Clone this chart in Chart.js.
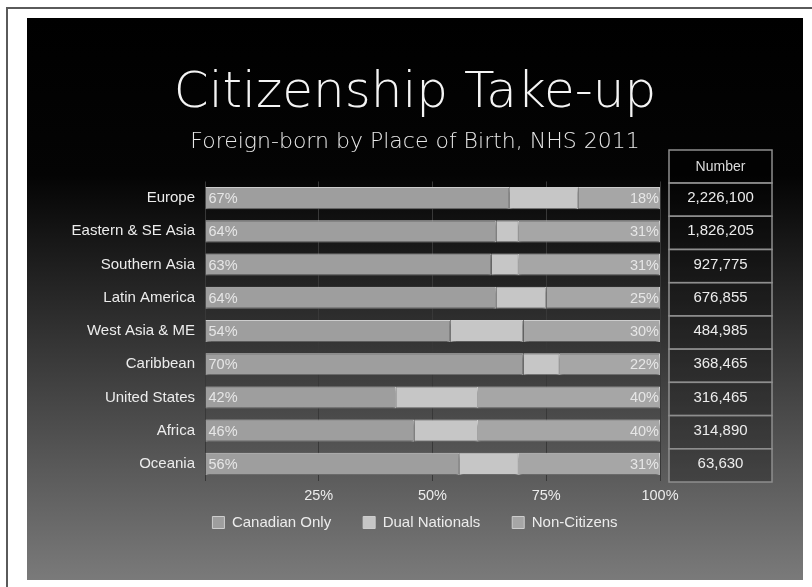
<!DOCTYPE html>
<html>
<head>
<meta charset="utf-8">
<script src="https://cdn.jsdelivr.net/npm/chart.js@4.4.1/dist/chart.umd.min.js"></script>
<style>
    html, body { margin: 0; padding: 0; background: #fff; }
    body { width: 812px; height: 587px; position: relative; overflow: hidden; }
    #frame { position: absolute; left: 6px; top: 7px; right: 0; bottom: 0; border-left: 2px solid #5a5a5a; border-top: 2px solid #5a5a5a; }
    #panel { position: absolute; left: 27px; top: 18px; width: 776px; height: 562px;
        background: linear-gradient(to bottom, #000 0%, #040404 28%, #7a7a7a 100%); }
</style>
</head>
<body>
<div id="frame"></div>
<div id="panel"><canvas id="chart"></canvas></div>
<script>
/* globals Chart */

const regions = ["Europe", "Eastern & SE Asia", "Southern Asia", "Latin America", "West Asia & ME",
    "Caribbean", "United States", "Africa", "Oceania"];
const canadianOnly = [67, 64, 63, 64, 54, 70, 42, 46, 56];
const dualNationals = [15, 5, 6, 11, 16, 8, 18, 14, 13];
const nonCitizens = [18, 31, 31, 25, 30, 22, 40, 40, 31];
const numbers = ["2,226,100", "1,826,205", "927,775", "676,855", "484,985",
    "368,465", "316,465", "314,890", "63,630"];
const xTicks = [25, 50, 75, 100];

const FONT = "'Liberation Sans', Arial, Helvetica, sans-serif";
const TITLE_FONT = "'DejaVu Sans', Roboto, sans-serif";
const TEXT = "#ececec";

// centre the numbers inside the table column
const measure = document.createElement("canvas").getContext("2d");
measure.font = "15px " + FONT;
const widest = Math.max(...numbers.map((n) => measure.measureText(n).width));

const numberTable = {
    id: "numberTable",
    beforeDraw(chart) {
        const { ctx, chartArea, scales: { y } } = chart;
        const left = chartArea.right + 9;
        const width = 103;
        const half = (y.getPixelForValue(1) - y.getPixelForValue(0)) / 2;
        ctx.save();
        ctx.strokeStyle = "#8e8e8e";
        ctx.lineWidth = 1.5;
        ctx.fillStyle = "rgba(0,0,0,0.28)";
        const headTop = chartArea.top - 31.5;
        ctx.fillRect(left, headTop, width, 33);
        ctx.strokeRect(left, headTop, width, 33);
        numbers.forEach((n, i) => {
            const top = y.getPixelForValue(i) - half + 1.5;
            ctx.fillRect(left, top, width, half * 2);
            ctx.strokeRect(left, top, width, half * 2);
        });
        ctx.fillStyle = "#dcdcdc";
        ctx.font = "14px " + FONT;
        ctx.textAlign = "center";
        ctx.textBaseline = "middle";
        ctx.fillText("Number", left + width / 2, headTop + 17);
        ctx.restore();
    }
};

// the x axis box is kept thin so the legend sits close; widen it again for label clipping
const xLabelRoom = {
    id: "xLabelRoom",
    afterLayout(chart) {
        chart.scales.x.bottom = chart.scales.x.top + 26;
    }
};

const barShadow = {
    id: "barShadow",
    beforeDatasetsDraw(chart) {
        const { ctx } = chart;
        ctx.save();
        ctx.shadowColor = "rgba(0,0,0,0.55)";
        ctx.shadowOffsetY = 3;
        ctx.shadowBlur = 3;
    },
    afterDatasetsDraw(chart) {
        chart.ctx.restore();
    }
};

const barLabels = {
    id: "barLabels",
    afterDatasetsDraw(chart) {
        const { ctx } = chart;
        const first = chart.getDatasetMeta(0).data;
        const last = chart.getDatasetMeta(2).data;
        ctx.save();
        ctx.font = "14.5px " + FONT;
        ctx.fillStyle = "#e6e6e6";
        ctx.textBaseline = "middle";
        first.forEach((bar, i) => {
            ctx.textAlign = "left";
            ctx.fillText(canadianOnly[i] + "%", bar.base + 3, bar.y + 1);
            ctx.textAlign = "right";
            ctx.fillText(nonCitizens[i] + "%", last[i].x - 1, bar.y + 1);
        });
        ctx.restore();
    }
};

const data = {
    labels: regions,
    datasets: [
        { label: "Canadian Only", data: canadianOnly, backgroundColor: "#9e9e9e" },
        { label: "Dual Nationals", data: dualNationals, backgroundColor: "#c6c6c6" },
        { label: "Non-Citizens", data: nonCitizens, backgroundColor: "#a6a6a6" }
    ].map((ds) => ({
        ...ds,
        borderColor: "#cdcdcd",
        borderWidth: 1,
        barPercentage: 0.665,
        categoryPercentage: 1
    }))
};

const options = {
    indexAxis: "y",
    responsive: true,
    maintainAspectRatio: false,
    animation: false,
    layout: { padding: { top: 0, bottom: 40, left: 0, right: 0 } },
    scales: {
        x: {
            stacked: true,
            min: 0,
            max: 100,
            afterFit: (scale) => { scale.height = 2.5; },
            afterBuildTicks: (scale) => { scale.ticks = [0, ...xTicks].map((v) => ({ value: v })); },
            ticks: {
                padding: 7,
                color: TEXT,
                font: { family: FONT, size: 14.5 },
                callback: (v) => (v === 0 ? "" : v + "%")
            },
            grid: { color: "#383838", lineWidth: 1, drawTicks: false },
            border: { display: false }
        },
        y: {
            stacked: true,
            afterFit: (scale) => { scale.width = 178; },
            ticks: { padding: 10, color: TEXT, font: { family: FONT, size: 15 } },
            grid: { display: false, drawTicks: false },
            border: { display: false }
        },
        y2: {
            type: "category",
            position: "right",
            labels: numbers,
            afterFit: (scale) => { scale.width = 143; },
            ticks: {
                crossAlign: "center",
                padding: 60.5 - widest / 2,
                color: TEXT,
                font: { family: FONT, size: 15 }
            },
            grid: { display: false, drawTicks: false },
            border: { display: false }
        }
    },
    plugins: {
        title: {
            display: true,
            text: "Citizenship Take-up",
            color: "#f4f4f4",
            font: { family: TITLE_FONT, size: 50, weight: 200 },
            padding: { top: 46.5, bottom: 0 }
        },
        subtitle: {
            display: true,
            text: "Foreign-born by Place of Birth, NHS 2011",
            color: "#e8e8e8",
            font: { family: TITLE_FONT, size: 22, weight: 200 },
            padding: { top: 4.3, bottom: 26.3 }
        },
        legend: {
            position: "bottom",
            labels: {
                boxWidth: 12,
                boxHeight: 12,
                padding: 32,
                color: TEXT,
                font: { family: FONT, size: 15 }
            }
        },
        tooltip: { enabled: false }
    }
};

new Chart(document.getElementById("chart"), {
    type: "bar",
    data,
    options,
    plugins: [numberTable, xLabelRoom, barShadow, barLabels]
});
</script>
</body>
</html>
